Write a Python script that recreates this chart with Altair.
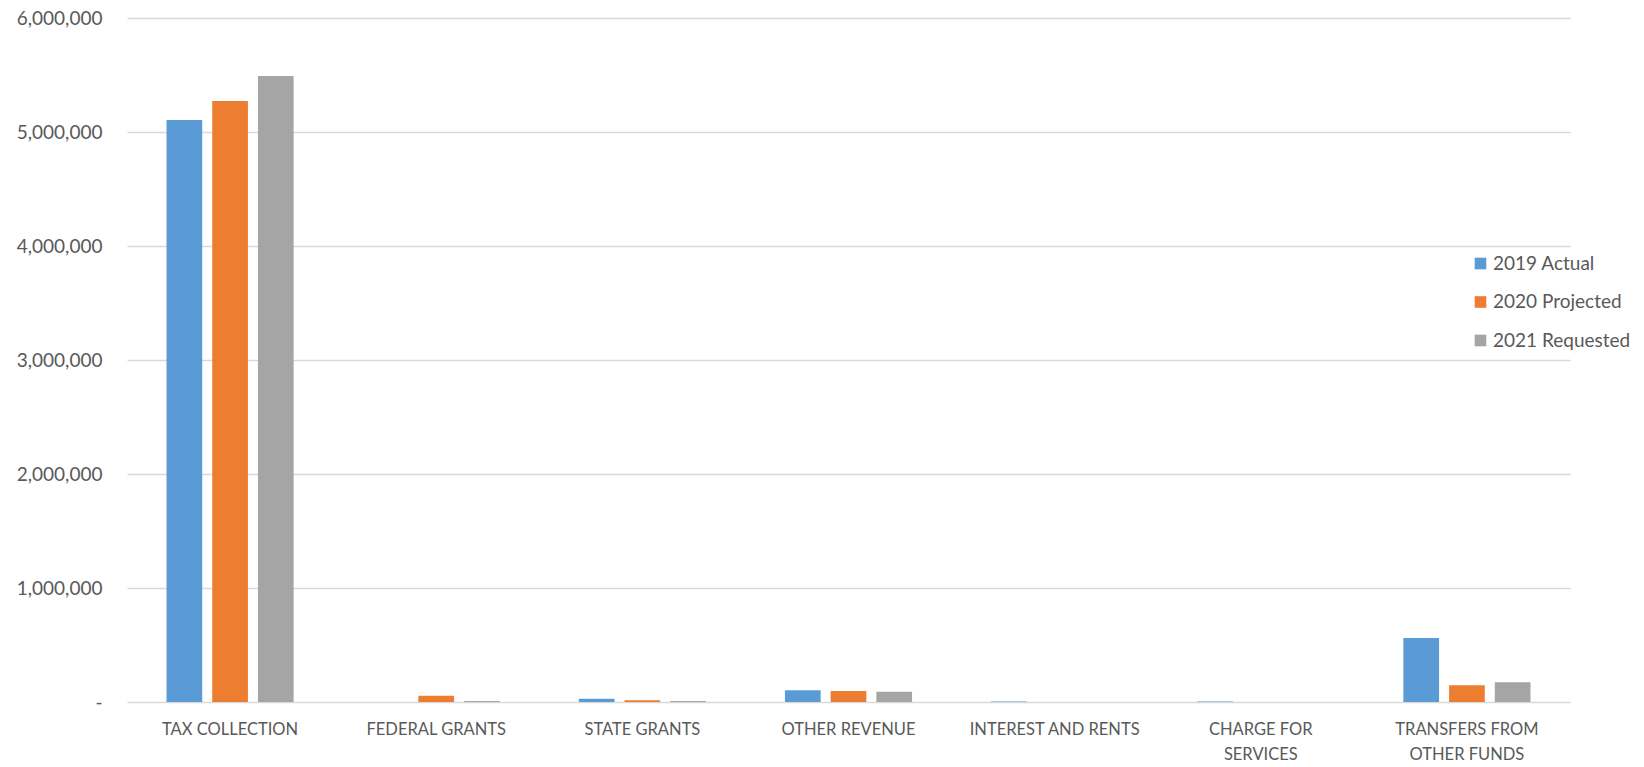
import altair as alt
import pandas as pd

categories = ["TAX COLLECTION", "FEDERAL GRANTS", "STATE GRANTS", "OTHER REVENUE",
              "INTEREST AND RENTS", "CHARGE FOR SERVICES", "TRANSFERS FROM OTHER FUNDS"]
label_lines = [["TAX COLLECTION"], ["FEDERAL GRANTS"], ["STATE GRANTS"], ["OTHER REVENUE"],
               ["INTEREST AND RENTS"], ["CHARGE FOR", "SERVICES"], ["TRANSFERS FROM", "OTHER FUNDS"]]
series = ["2019 Actual", "2020 Projected", "2021 Requested"]
actual_2019 = [5105000, 0, 28000, 103000, 4000, 4000, 561000]
projected_2020 = [5272000, 55000, 16000, 97000, 0, 0, 146000]
requested_2021 = [5491000, 8000, 8000, 91000, 0, 0, 173000]
colors = ["#5B9BD5", "#ED7D31", "#A5A5A5"]
y_ticks = [0, 1000000, 2000000, 3000000, 4000000, 5000000, 6000000]

rows = []
for s, vals in zip(series, [actual_2019, projected_2020, requested_2021]):
    for c, v in zip(categories, vals):
        rows.append({"category": c, "series": s, "value": v})
df = pd.DataFrame(rows)

parts = []
for c, lines in zip(categories, label_lines):
    arr = "[" + ",".join("'" + l + "'" for l in lines) + "]"
    parts.append(f"datum.label == '{c}' ? {arr}")
label_expr = " : ".join(parts) + " : datum.label"

FONT = "Lato"
TXT = "#595959"

chart = alt.Chart(df).mark_bar().encode(
    x=alt.X("category:N", sort=categories, title=None,
            scale=alt.Scale(paddingInner=0, paddingOuter=0),
            axis=alt.Axis(labelAngle=0, labelExpr=label_expr, domain=False, ticks=False,
                          labelPadding=19, labelLineHeight=25, labelFontSize=16.5,
                          labelColor=TXT, labelFont=FONT, labelLimit=300)),
    xOffset=alt.XOffset("series:N", sort=series,
                        scale=alt.Scale(paddingInner=0.219, paddingOuter=0.8645)),
    y=alt.Y("value:Q", title=None,
            scale=alt.Scale(domain=[0, 6000000], nice=False),
            axis=alt.Axis(values=y_ticks, domain=False, ticks=False, grid=True,
                          gridColor="#d9d9d9", gridWidth=1.5,
                          labelExpr="datum.value == 0 ? '-' : format(datum.value, ',')",
                          labelPadding=25, labelFontSize=19, labelColor=TXT, labelFont=FONT)),
    color=alt.Color("series:N", sort=series,
                    scale=alt.Scale(domain=series, range=colors),
                    legend=alt.Legend(title=None, orient="none", legendX=1344, legendY=236,
                                      symbolType="square", symbolSize=135, symbolStrokeWidth=0,
                                      labelFontSize=19, labelColor=TXT, labelFont=FONT,
                                      labelOffset=3, rowPadding=18.5)),
).properties(
    width=1443, height=684,
    padding={"left": 119, "top": 10, "right": 60, "bottom": 62},
    autosize=alt.AutoSizeParams(type="none"),
    background="white",
).configure_view(strokeWidth=0, stroke="transparent")

chart.save("out.html", embed_options={"renderer": "svg", "actions": False})
